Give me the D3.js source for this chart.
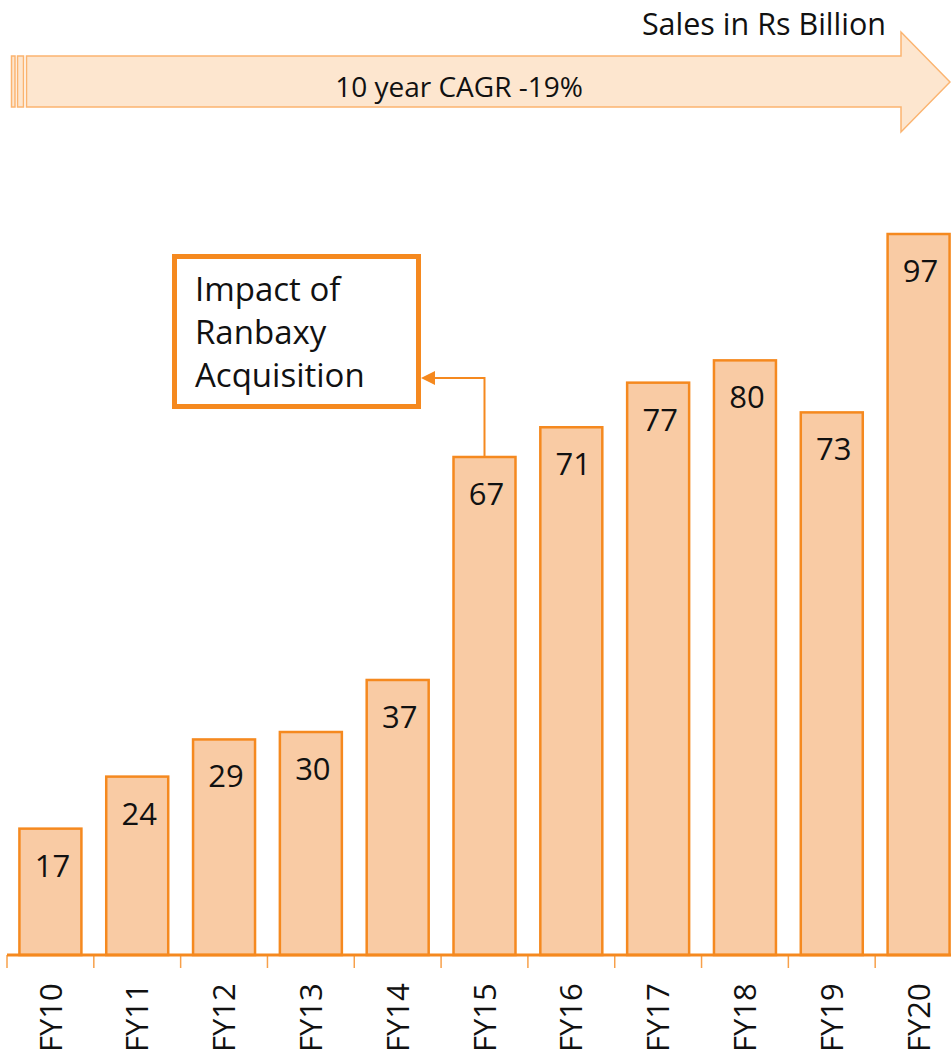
<!DOCTYPE html>
<style>
body { margin: 0; background: #fff; }
text { font-family: "Open Sans", "Noto Sans", sans-serif; fill: #111; }
.bar { fill: #f9cba4; stroke: #f5891f; stroke-width: 2.5px; }
.value { font-size: 31px; text-anchor: middle; }
.cat text { font-size: 31px; }
</style>
<svg width="951" height="1055"></svg>
<script src="https://cdn.jsdelivr.net/npm/d3@7"></script>
<script>

var years = ["FY10", "FY11", "FY12", "FY13", "FY14", "FY15", "FY16", "FY17", "FY18", "FY19", "FY20"];
var sales = [17, 24, 29, 30, 37, 67, 71, 77, 80, 73, 97];
var calloutLines = ["Impact of", "Ranbaxy", "Acquisition"];
var calloutYear = "FY15";

var svg = d3.select("svg");

var x = d3.scaleBand()
    .domain(years)
    .range([7, 962])
    .paddingInner(0.286)
    .paddingOuter(0.143);

var y = d3.scaleLinear()
    .domain([0, 97])
    .range([955, 234]);

var gap = (x.step() - x.bandwidth()) / 2;

// top arrow
var arrow = svg.append("g")
    .attr("fill", "#fde6cf")
    .attr("stroke", "#fbb470")
    .attr("stroke-width", 1.5);

arrow.append("rect").attr("x", 11.5).attr("y", 56).attr("width", 3.5).attr("height", 51);
arrow.append("rect").attr("x", 17.5).attr("y", 56).attr("width", 6).attr("height", 51);
arrow.append("path")
    .attr("d", "M26.5,56 L901,56 L901,32 L950,82 L901,132 L901,107 L26.5,107 Z");

svg.append("text")
    .attr("x", 459).attr("y", 97)
    .attr("text-anchor", "middle")
    .style("font-size", "28px")
    .text("10 year CAGR -19%");

svg.append("text")
    .attr("x", 886).attr("y", 35)
    .attr("text-anchor", "end")
    .style("font-size", "30.5px")
    .text("Sales in Rs Billion");

// bars
svg.append("g")
  .selectAll("rect")
  .data(years)
  .enter().append("rect")
    .attr("class", "bar")
    .attr("x", function(d) { return x(d); })
    .attr("y", function(d, i) { return y(sales[i]); })
    .attr("width", x.bandwidth())
    .attr("height", function(d, i) { return y(0) - y(sales[i]); });

svg.append("g")
  .selectAll("text")
  .data(years)
  .enter().append("text")
    .attr("class", "value")
    .attr("x", function(d) { return x(d) + x.bandwidth() / 2 + 2; })
    .attr("y", function(d, i) { return y(sales[i]) + 48; })
    .text(function(d, i) { return sales[i]; });

// axis
var axis = svg.append("g")
    .attr("class", "cat")
    .attr("transform", "translate(0," + y(0) + ")")
    .call(d3.axisBottom(x).tickSize(0).tickPadding(0));

axis.select(".domain").remove();
axis.selectAll("text")
    .attr("transform", "rotate(-90)")
    .attr("x", -97)
    .attr("y", 0)
    .attr("dy", "0.36em")
    .attr("dx", 0)
    .style("text-anchor", "start");

svg.append("g")
    .attr("stroke", "#f7a04a")
    .attr("stroke-width", 1.5)
  .selectAll("line")
  .data(years)
  .enter().append("line")
    .attr("x1", function(d) { return x(d) - gap; })
    .attr("x2", function(d) { return x(d) - gap; })
    .attr("y1", y(0))
    .attr("y2", y(0) + 13);

svg.append("line")
    .attr("x1", x.range()[0]).attr("x2", x.range()[1])
    .attr("y1", y(0)).attr("y2", y(0))
    .attr("stroke", "#f5891f")
    .attr("stroke-width", 3);

// callout
var cIndex = years.indexOf(calloutYear),
    cx = x(calloutYear) + x.bandwidth() / 2;

svg.append("rect")
    .attr("x", 174.5).attr("y", 256.5)
    .attr("width", 244).attr("height", 150)
    .attr("fill", "#fff")
    .attr("stroke", "#f5891f")
    .attr("stroke-width", 5);

svg.append("path")
    .attr("d", "M" + cx + "," + y(sales[cIndex]) + " V378 H434")
    .attr("fill", "none")
    .attr("stroke", "#f5891f")
    .attr("stroke-width", 2);

svg.append("path")
    .attr("d", "M421,378 L435,371 L435,385 Z")
    .attr("fill", "#f5891f");

svg.append("g")
  .selectAll("text")
  .data(calloutLines)
  .enter().append("text")
    .attr("x", 195)
    .attr("y", function(d, i) { return 301 + i * 43; })
    .style("font-size", "33px")
    .text(function(d) { return d; });

</script>
